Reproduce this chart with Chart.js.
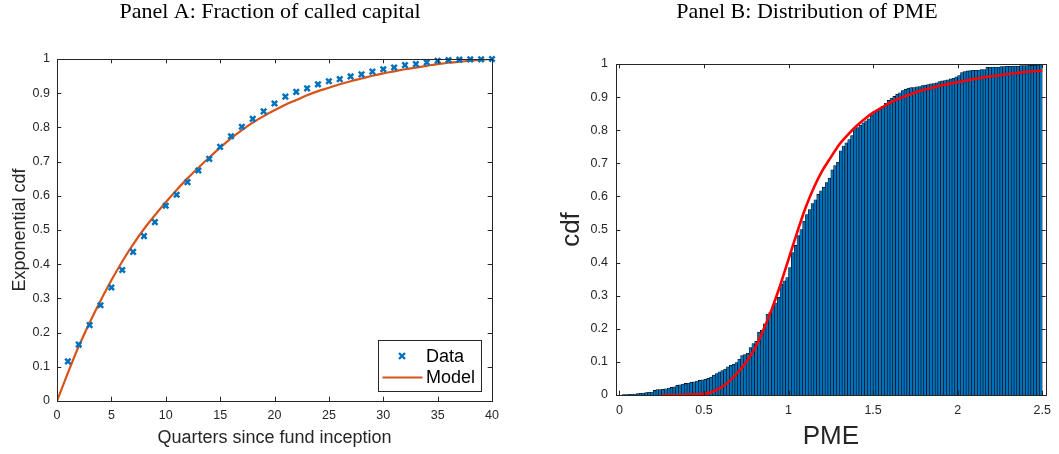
<!DOCTYPE html>
<html>
<head>
<meta charset="utf-8">
<title>Called capital and PME</title>
<script src="https://cdn.jsdelivr.net/npm/chart.js@4.4.1/dist/chart.umd.min.js"></script>
<style>
  html, body { margin: 0; padding: 0; background: #fff; }
  #wrap { position: relative; width: 1059px; height: 454px; overflow: hidden; }
  #panelA { position: absolute; left: 0; top: 0; }
  #panelB { position: absolute; left: 540px; top: 0; }
</style>
</head>
<body>
<div id="wrap">
  <div id="panelA" style="width:530px;height:454px"><canvas id="chartA"></canvas></div>
  <div id="panelB" style="width:519px;height:454px"><canvas id="chartB"></canvas></div>
</div>
<script>
// Panel A: fraction of called capital, by quarter
const quarters = [1, 2, 3, 4, 5, 6, 7, 8, 9, 10, 11, 12, 13, 14, 15, 16, 17, 18, 19, 20,
                  21, 22, 23, 24, 25, 26, 27, 28, 29, 30, 31, 32, 33, 34, 35, 36, 37, 38, 39, 40];
const calledData = [0.116, 0.165, 0.222, 0.280, 0.332, 0.383, 0.436, 0.482, 0.523, 0.571,
                    0.603, 0.640, 0.674, 0.708, 0.743, 0.774, 0.802, 0.825, 0.847, 0.870,
                    0.890, 0.904, 0.914, 0.926, 0.935, 0.941, 0.949, 0.955, 0.963, 0.970,
                    0.975, 0.982, 0.985, 0.990, 0.995, 0.997, 0.998, 0.999, 0.999, 1.000];
const modelQuarters = [0, 1, 2, 3, 4, 5, 6, 7, 8, 9, 10, 11, 12, 13, 14, 15, 16, 17, 18, 19, 20,
                       21, 22, 23, 24, 25, 26, 27, 28, 29, 30, 31, 32, 33, 34, 35, 36, 37, 38, 39, 40];
const modelCalled = [0, 0.082, 0.160, 0.229, 0.293, 0.353, 0.408, 0.458, 0.503, 0.543, 0.581,
                     0.617, 0.651, 0.682, 0.712, 0.741, 0.768, 0.792, 0.814, 0.833, 0.850,
                     0.866, 0.880, 0.894, 0.906, 0.916, 0.926, 0.935, 0.943, 0.951, 0.958,
                     0.964, 0.970, 0.975, 0.980, 0.985, 0.989, 0.992, 0.995, 0.998, 1.000];
const xTicksA = [0, 5, 10, 15, 20, 25, 30, 35, 40];
const yTicksA = [0, 0.1, 0.2, 0.3, 0.4, 0.5, 0.6, 0.7, 0.8, 0.9, 1];

// Panel B: empirical cdf of PME (150 bins from 0 to 2.5) and fitted model
const pmeBinCount = 150;
const pmeMax = 2.5;
const pmeCdf = [
  0.000, 0.001, 0.001, 0.002, 0.002, 0.003, 0.004, 0.005, 0.006, 0.007,
  0.008, 0.009, 0.014, 0.016, 0.016, 0.017, 0.019, 0.021, 0.023, 0.025,
  0.029, 0.031, 0.033, 0.035, 0.036, 0.038, 0.040, 0.042, 0.044, 0.046,
  0.048, 0.050, 0.054, 0.060, 0.065, 0.070, 0.074, 0.078, 0.085, 0.090,
  0.093, 0.098, 0.108, 0.119, 0.122, 0.126, 0.143, 0.155, 0.162, 0.190,
  0.196, 0.215, 0.244, 0.250, 0.266, 0.278, 0.295, 0.335, 0.345, 0.355,
  0.385, 0.430, 0.452, 0.482, 0.500, 0.525, 0.545, 0.560, 0.578, 0.590,
  0.606, 0.617, 0.628, 0.642, 0.655, 0.680, 0.693, 0.703, 0.738, 0.752,
  0.762, 0.772, 0.784, 0.805, 0.808, 0.815, 0.822, 0.828, 0.834, 0.845,
  0.857, 0.862, 0.866, 0.872, 0.882, 0.890, 0.897, 0.902, 0.908, 0.913,
  0.920, 0.924, 0.927, 0.929, 0.929, 0.931, 0.932, 0.935, 0.936, 0.938,
  0.940, 0.941, 0.943, 0.947, 0.949, 0.950, 0.952, 0.955, 0.957, 0.961,
  0.965, 0.974, 0.977, 0.979, 0.980, 0.981, 0.981, 0.982, 0.983, 0.983,
  0.990, 0.990, 0.991, 0.991, 0.991, 0.992, 0.992, 0.993, 0.993, 0.994,
  0.994, 0.994, 0.995, 0.995, 0.995, 0.996, 0.996, 0.996, 0.997, 0.997
];
const modelPme = [0.25, 0.30, 0.35, 0.40, 0.45, 0.50, 0.55, 0.60, 0.65, 0.70, 0.75, 0.80,
                  0.85, 0.90, 0.95, 1.00, 1.05, 1.10, 1.15, 1.20, 1.25, 1.30, 1.35, 1.40,
                  1.45, 1.50, 1.55, 1.60, 1.65, 1.70, 1.75, 1.80, 1.85, 1.90, 1.95, 2.00,
                  2.05, 2.10, 2.15, 2.20, 2.25, 2.30, 2.35, 2.40, 2.45, 2.50];
const modelCdf = [0.000, 0.000, 0.000, 0.001, 0.002, 0.004, 0.010, 0.022, 0.042, 0.068, 0.100, 0.140,
                  0.195, 0.258, 0.330, 0.410, 0.490, 0.565, 0.627, 0.678, 0.718, 0.757, 0.786, 0.812,
                  0.834, 0.853, 0.868, 0.883, 0.895, 0.905, 0.914, 0.922, 0.928, 0.935, 0.940, 0.945,
                  0.950, 0.955, 0.959, 0.963, 0.966, 0.970, 0.973, 0.976, 0.978, 0.980];
const xTicksB = [0, 0.5, 1, 1.5, 2, 2.5];
const yTicksB = [0, 0.1, 0.2, 0.3, 0.4, 0.5, 0.6, 0.7, 0.8, 0.9, 1];

// colores estilo MATLAB
const AXIS_COLOR = '#262626';
const BLUE = '#0072BD';
const ORANGE = '#D95319';
const SANS = '"Liberation Sans", Arial, sans-serif';
const SERIF = '"Liberation Serif", "Times New Roman", serif';

Chart.defaults.font.family = SANS;
Chart.defaults.color = AXIS_COLOR;

// caja completa con marcas hacia dentro, y titulo del panel
const framePlugin = {
  id: 'frame',
  afterDatasetsDraw(chart) {
    const opts = chart.options.plugins.frame;
    const { ctx, chartArea: a, scales } = chart;
    const tl = opts.tickLen;
    ctx.save();
    ctx.strokeStyle = AXIS_COLOR;
    ctx.lineWidth = 1;
    ctx.beginPath();
    scales.x.ticks.forEach(t => {
      const px = Math.round(scales.x.getPixelForValue(t.value)) + 0.5;
      ctx.moveTo(px, a.bottom); ctx.lineTo(px, a.bottom - tl);
      ctx.moveTo(px, a.top); ctx.lineTo(px, a.top + tl);
    });
    scales.y.ticks.forEach(t => {
      const py = Math.round(scales.y.getPixelForValue(t.value)) + 0.5;
      ctx.moveTo(a.left, py); ctx.lineTo(a.left + tl, py);
      ctx.moveTo(a.right, py); ctx.lineTo(a.right - tl, py);
    });
    ctx.stroke();
    ctx.strokeRect(Math.round(a.left) + 0.5, Math.round(a.top) + 0.5,
                   Math.round(a.right - a.left), Math.round(a.bottom - a.top));
    ctx.fillStyle = '#000';
    ctx.font = opts.titleSize + 'px ' + SERIF;
    ctx.textAlign = 'center';
    ctx.textBaseline = 'alphabetic';
    ctx.fillText(opts.title, opts.titleX, opts.titleY);
    ctx.restore();
  }
};

// leyenda dentro del area (panel A)
const legendBoxPlugin = {
  id: 'legendBox',
  afterDraw(chart) {
    const opts = chart.options.plugins.legendBox;
    if (!opts) return;
    const { ctx, chartArea: a } = chart;
    const right = a.right - 11, bottom = a.bottom - 10;
    const w = 103, h = 51;
    const left = right - w, top = bottom - h;
    ctx.save();
    ctx.fillStyle = '#fff';
    ctx.fillRect(left, top, w, h);
    ctx.strokeStyle = AXIS_COLOR;
    ctx.lineWidth = 1;
    ctx.strokeRect(Math.round(left) + 0.5, Math.round(top) + 0.5, w, h);
    const row1 = top + 16, row2 = top + 37.5;
    // marcador "x"
    const mx = left + 24, r = 3;
    ctx.strokeStyle = BLUE;
    ctx.lineWidth = 2.4;
    ctx.beginPath();
    ctx.moveTo(mx - r, row1 - r); ctx.lineTo(mx + r, row1 + r);
    ctx.moveTo(mx + r, row1 - r); ctx.lineTo(mx - r, row1 + r);
    ctx.stroke();
    // linea del modelo
    ctx.strokeStyle = ORANGE;
    ctx.lineWidth = 2;
    ctx.beginPath();
    ctx.moveTo(left + 4.5, row2); ctx.lineTo(left + 44.5, row2);
    ctx.stroke();
    ctx.fillStyle = '#000';
    ctx.font = '18px ' + SANS;
    ctx.textAlign = 'left';
    ctx.textBaseline = 'middle';
    ctx.fillText(opts.labels[0], left + 48, row1 + 1);
    ctx.fillText(opts.labels[1], left + 48, row2 + 1);
    ctx.restore();
  }
};

function fixTicks(values) {
  return function (scale) { scale.ticks = values.map(v => ({ value: v })); };
}

function axis(min, max, tickValues, fit, title, titleFont, titlePad, tickPad) {
  return {
    type: 'linear',
    min: min,
    max: max,
    offset: false,
    grid: { display: false, drawTicks: false },
    border: { display: false },
    afterBuildTicks: fixTicks(tickValues),
    afterFit: fit,
    ticks: {
      font: { size: 12.5 },
      color: AXIS_COLOR,
      padding: tickPad,
      maxRotation: 0,
      autoSkip: false,
      callback: v => String(v)
    },
    title: {
      display: true,
      text: title,
      color: AXIS_COLOR,
      font: { size: titleFont },
      padding: titlePad
    }
  };
}

// Panel A
new Chart(document.getElementById('chartA'), {
  type: 'scatter',
  data: {
    datasets: [
      {
        label: 'Data',
        data: quarters.map((q, i) => ({ x: q, y: calledData[i] })),
        pointStyle: 'crossRot',
        pointRadius: 3.8,
        pointBorderWidth: 2.5,
        borderColor: BLUE,
        backgroundColor: BLUE,
        showLine: false,
        clip: false,
        order: 1
      },
      {
        label: 'Model',
        type: 'line',
        data: modelQuarters.map((q, i) => ({ x: q, y: modelCalled[i] })),
        borderColor: ORANGE,
        borderWidth: 2.2,
        pointRadius: 0,
        cubicInterpolationMode: 'monotone',
        fill: false,
        order: 2
      }
    ]
  },
  options: {
    responsive: true,
    maintainAspectRatio: false,
    animation: false,
    layout: { padding: { top: 59, right: 38, left: 0, bottom: 0 } },
    scales: {
      x: axis(0, 40, xTicksA, s => { s.height = 53; }, 'Quarters since fund inception', 18, { top: 0, bottom: 5 }, 7),
      y: axis(0, 1, yTicksA, s => { s.width = 57; }, 'Exponential cdf', 18, { top: 9, bottom: 0 }, 7)
    },
    plugins: {
      legend: { display: false },
      tooltip: { enabled: false },
      frame: { title: 'Panel A: Fraction of called capital', titleX: 270, titleY: 18, titleSize: 22, tickLen: 4.3 },
      legendBox: { labels: ['Data', 'Model'] }
    }
  },
  plugins: [framePlugin, legendBoxPlugin]
});

// Panel B
const binWidth = pmeMax / pmeBinCount;
new Chart(document.getElementById('chartB'), {
  type: 'bar',
  data: {
    datasets: [
      {
        label: 'Empirical cdf',
        data: pmeCdf.map((v, k) => ({ x: (k + 0.5) * binWidth, y: v })),
        backgroundColor: BLUE,
        borderColor: '#000',
        borderWidth: 0.6,
        barPercentage: 1,
        categoryPercentage: 1,
        grouped: false,
        order: 2
      },
      {
        label: 'Model',
        type: 'line',
        data: modelPme.map((x, i) => ({ x: x, y: modelCdf[i] })),
        borderColor: '#FF0000',
        borderWidth: 2.6,
        pointRadius: 0,
        cubicInterpolationMode: 'monotone',
        fill: false,
        order: 1
      }
    ]
  },
  options: {
    responsive: true,
    maintainAspectRatio: false,
    animation: false,
    layout: { padding: { top: 64, right: 10, left: 0, bottom: 0 } },
    scales: {
      x: axis(-0.02, 2.52, xTicksB, s => { s.height = 59; }, 'PME', 26, { top: 0, bottom: 2 }, 8),
      y: axis(0, 1, yTicksB, s => { s.width = 76; }, 'cdf', 26, { top: 16, bottom: 0 }, 8)
    },
    plugins: {
      legend: { display: false },
      tooltip: { enabled: false },
      frame: { title: 'Panel B: Distribution of PME', titleX: 267, titleY: 18, titleSize: 22, tickLen: 4.3 }
    }
  },
  plugins: [framePlugin]
});
</script>
</body>
</html>
